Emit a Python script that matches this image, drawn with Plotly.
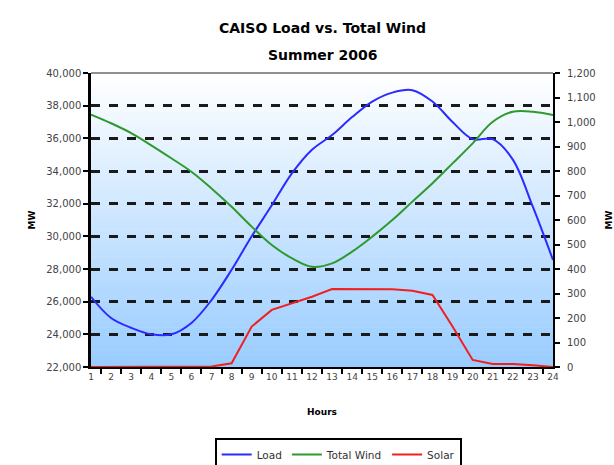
import plotly.graph_objects as go

hours = [str(h) for h in range(1, 25)]
load = [26300, 25000, 24400, 24000, 24000, 24700, 26100, 27950, 30000, 31900, 33850, 35300,
        36200, 37300, 38250, 38800, 38950, 38250, 37000, 35950, 35950, 34700, 31800, 28550]
wind = [1030, 995, 955, 905, 852, 797, 729, 654, 573, 498, 444, 409,
        423, 471, 532, 600, 675, 750, 831, 913, 1001, 1042, 1042, 1029]
solar = [0, 0, 0, 0, 0, 0, 2, 15, 165, 233, 260, 287,
         318, 318, 318, 317, 311, 294, 165, 29, 12, 12, 7, 0]

fig = go.Figure()
fig.add_trace(go.Scatter(x=hours, y=load, name="Load", mode="lines",
                         line=dict(color="#2b2bff", width=2), line_shape="spline"))
fig.add_trace(go.Scatter(x=hours, y=wind, name="Total Wind", mode="lines", yaxis="y2",
                         line=dict(color="#2e9a2e", width=2), line_shape="spline"))
fig.add_trace(go.Scatter(x=hours, y=solar, name="Solar", mode="lines", yaxis="y2",
                         line=dict(color="#f02020", width=2)))

# gradient background
n = 120
shapes = []
for i in range(n):
    t = i / (n - 1)
    r = round(153 + (255 - 153) * t)
    g = round(204 + (255 - 204) * t)
    shapes.append(dict(type="rect", xref="x domain", yref="y domain",
                       x0=0, x1=1, y0=i / n, y1=(i + 1) / n + 0.002,
                       fillcolor=f"rgb({r},{g},255)", line=dict(width=0), layer="below"))
shapes.append(dict(type="line", xref="x domain", yref="y domain", x0=0, x1=1, y0=1, y1=1,
                   line=dict(color="#909090", width=2), layer="above"))

tickfont = dict(family="DejaVu Sans", size=10, color="#444444")
axtitle = dict(size=9, family="DejaVu Sans", color="black")
fig.update_layout(
    width=614, height=465,
    margin=dict(l=91, r=61, t=73, b=98, autoexpand=False),
    paper_bgcolor="white", plot_bgcolor="white",
    font=dict(family="DejaVu Sans", color="black"),
    shapes=shapes,
    showlegend=True,
    legend=dict(orientation="h", xanchor="center", x=0.535, yref="container", y=1 - 438 / 465,
                yanchor="top", bordercolor="black", borderwidth=2,
                font=dict(family="DejaVu Sans", size=10.5, color="#333333"),
                itemwidth=30, tracegroupgap=0),
    xaxis=dict(type="category", tickson="boundaries", ticks="outside", ticklen=5,
               tickwidth=2, tickcolor="black", showline=True, linecolor="black", linewidth=2,
               showgrid=False, tickangle=0, automargin=False,
               tickfont=dict(family="DejaVu Sans", size=9, color="#444444"),
               title=dict(text="<b>Hours</b>", font=axtitle, standoff=28)),
    yaxis=dict(range=[22000, 40000], dtick=2000, tickformat=",d", ticks="outside", ticklen=5,
               tickwidth=2, tickcolor="black", showline=True, linecolor="black", linewidth=2.5,
               showgrid=True, gridcolor="#1a1a1a", gridwidth=2.5, griddash="dash",
               zeroline=False, tickfont=tickfont, automargin=False,
               title=dict(text="<b>MW</b>", font=axtitle, standoff=10)),
    yaxis2=dict(range=[0, 1200], dtick=100, tickformat=",d", overlaying="y", side="right",
                ticks="outside", ticklen=5, tickwidth=2, tickcolor="black",
                showline=True, linecolor="black", linewidth=2, showgrid=False, zeroline=False,
                tickfont=tickfont, ticklabelstandoff=5, automargin=False,
                title=dict(text="<b>MW</b>", font=axtitle, standoff=14)),
    annotations=[
        dict(text="<b>CAISO Load vs. Total Wind</b>", xref="paper", yref="paper",
             x=0.5, y=(367 - 18) / 294, showarrow=False, font=dict(size=14, family="DejaVu Sans")),
        dict(text="<b>Summer 2006</b>", xref="paper", yref="paper",
             x=0.5, y=(367 - 45) / 294, showarrow=False, font=dict(size=14, family="DejaVu Sans")),
    ],
)

fig.write_html("out.html")
